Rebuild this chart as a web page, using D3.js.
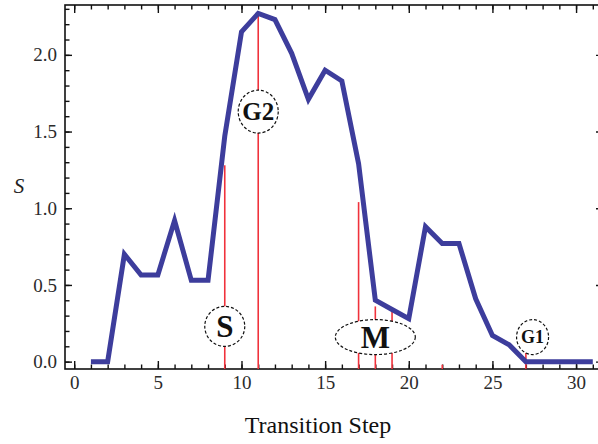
<!DOCTYPE html>
<html>
<head>
<meta charset="utf-8">
<script src="https://cdn.jsdelivr.net/npm/d3@7"></script>
<style>
  html, body { margin: 0; padding: 0; background: #fff; }
  svg { display: block; }
</style>
</head>
<body>
<div id="chart"></div>
<script>
// Transition step profile of S, with phase markers (S, G2, M, G1).

const steps = [1, 2, 3, 4, 5, 6, 7, 8, 9, 10, 11, 12, 13, 14, 15, 16,
  17, 18, 19, 20, 21, 22, 23, 24, 25, 26, 27, 28, 29, 30, 31];
const sValues = [0, 0, 0.70, 0.565, 0.565, 0.92, 0.53, 0.53, 1.47, 2.15,
  2.27, 2.23, 2.01, 1.71, 1.90, 1.83, 1.29, 0.40, 0.34, 0.28, 0.88, 0.77,
  0.77, 0.41, 0.17, 0.11, 0, 0, 0, 0, 0];

// red marker lines: step and height they reach
const markerSteps = [9, 11, 17, 18, 19, 22, 27];
const markerTops = [1.28, 2.28, 1.04, 0.36, 0.35, -0.02, 0.06];

// phase labels
const phaseNames = ["S", "G2", "M", "G1"];
const phaseX = [9, 11, 18, 27.4];
const phaseY = [0.23, 1.63, 0.16, 0.16];

const xMajor = [0, 5, 10, 15, 20, 25, 30];
const yMajor = [0, 0.5, 1.0, 1.5, 2.0];

const W = 598, H = 444;
const plotL = 65, plotR = 603, plotT = 5, plotB = 369;

const x = d3.scaleLinear().domain([-0.55, 31.61]).range([plotL, plotR]);
const y = d3.scaleLinear().domain([-0.048, 2.325]).range([plotB, plotT]);

const svg = d3.select("#chart").append("svg")
  .attr("width", W).attr("height", H)
  .attr("viewBox", `0 0 ${W} ${H}`);

const serif = "'Liberation Serif', 'Times New Roman', serif";
const xMinor = d3.range(0, 32);
const yMinor = d3.range(0, 24).map((i) => i / 10);

function styleAxis(g, size) {
  g.select(".domain").remove();
  g.selectAll(".tick line").attr("stroke", "#111").attr("stroke-width", 1.4);
  g.selectAll(".tick text")
    .attr("font-family", serif).attr("font-size", size).attr("fill", "#2b2b2b");
}

// bottom
svg.append("g").attr("transform", `translate(0,${plotB})`)
  .call(d3.axisBottom(x).tickValues(xMinor).tickSize(-4.5).tickFormat(""))
  .call((g) => styleAxis(g, 19));
svg.append("g").attr("transform", `translate(0,${plotB})`)
  .call(d3.axisBottom(x).tickValues(xMajor).tickSize(-8).tickPadding(7).tickFormat(d3.format("d")))
  .call((g) => styleAxis(g, 19));
// top
svg.append("g").attr("transform", `translate(0,${plotT})`)
  .call(d3.axisTop(x).tickValues(xMinor).tickSize(-4.5).tickFormat(""))
  .call((g) => styleAxis(g, 19));
svg.append("g").attr("transform", `translate(0,${plotT})`)
  .call(d3.axisTop(x).tickValues(xMajor).tickSize(-8).tickFormat(""))
  .call((g) => styleAxis(g, 19));
// left
svg.append("g").attr("transform", `translate(${plotL},0)`)
  .call(d3.axisLeft(y).tickValues(yMinor).tickSize(-4.5).tickFormat(""))
  .call((g) => styleAxis(g, 19));
svg.append("g").attr("transform", `translate(${plotL},0)`)
  .call(d3.axisLeft(y).tickValues(yMajor).tickSize(-7).tickPadding(8).tickFormat(d3.format(".1f")))
  .call((g) => styleAxis(g, 19));
// right
svg.append("g").attr("transform", `translate(${plotR},0)`)
  .call(d3.axisRight(y).tickValues(yMinor).tickSize(-4.5).tickFormat(""))
  .call((g) => styleAxis(g, 19));
svg.append("g").attr("transform", `translate(${plotR},0)`)
  .call(d3.axisRight(y).tickValues(yMajor).tickSize(-7).tickFormat(""))
  .call((g) => styleAxis(g, 19));

// frame
svg.append("rect")
  .attr("x", plotL).attr("y", plotT)
  .attr("width", plotR - plotL).attr("height", plotB - plotT)
  .attr("fill", "none").attr("stroke", "#111").attr("stroke-width", 1.6);

// red markers
svg.append("g").selectAll("line")
  .data(markerSteps)
  .join("line")
  .attr("x1", (d) => x(d)).attr("x2", (d) => x(d))
  .attr("y1", plotB)
  .attr("y2", (d, i) => y(markerTops[i]))
  .attr("stroke", "#f0323c").attr("stroke-width", 1.6);

// the series
const line = d3.line()
  .x((d, i) => x(steps[i]))
  .y((d) => y(d));
svg.append("path")
  .datum(sValues)
  .attr("d", line)
  .attr("fill", "none")
  .attr("stroke", "#3d3d9c")
  .attr("stroke-width", 5)
  .attr("stroke-linejoin", "miter");

// phase labels
const shapes = [
  { rx: 20, ry: 20, size: 31 },
  { rx: 20, ry: 21.5, size: 25 },
  { rx: 40, ry: 17.5, size: 31 },
  { rx: 16, ry: 17.5, size: 18 },
];
const phase = svg.append("g").selectAll("g")
  .data(phaseNames)
  .join("g")
  .attr("transform", (d, i) => `translate(${x(phaseX[i])},${y(phaseY[i])})`);
phase.append("ellipse")
  .attr("rx", (d, i) => shapes[i].rx)
  .attr("ry", (d, i) => shapes[i].ry)
  .attr("fill", "#fff")
  .attr("stroke", "#111")
  .attr("stroke-width", 1.2)
  .attr("stroke-dasharray", "3,2");
phase.append("text")
  .attr("text-anchor", "middle")
  .attr("dy", "0.35em")
  .attr("font-family", serif)
  .attr("font-weight", "bold")
  .attr("font-size", (d, i) => shapes[i].size)
  .attr("fill", "#111")
  .text((d) => d);

// axis titles
svg.append("text")
  .attr("x", 318).attr("y", 433)
  .attr("text-anchor", "middle")
  .attr("font-family", serif).attr("font-size", 24).attr("fill", "#111")
  .text("Transition Step");
svg.append("text")
  .attr("x", 19).attr("y", 193)
  .attr("text-anchor", "middle")
  .attr("font-family", serif).attr("font-style", "italic")
  .attr("font-size", 21).attr("fill", "#222")
  .text("S");
</script>
</body>
</html>
